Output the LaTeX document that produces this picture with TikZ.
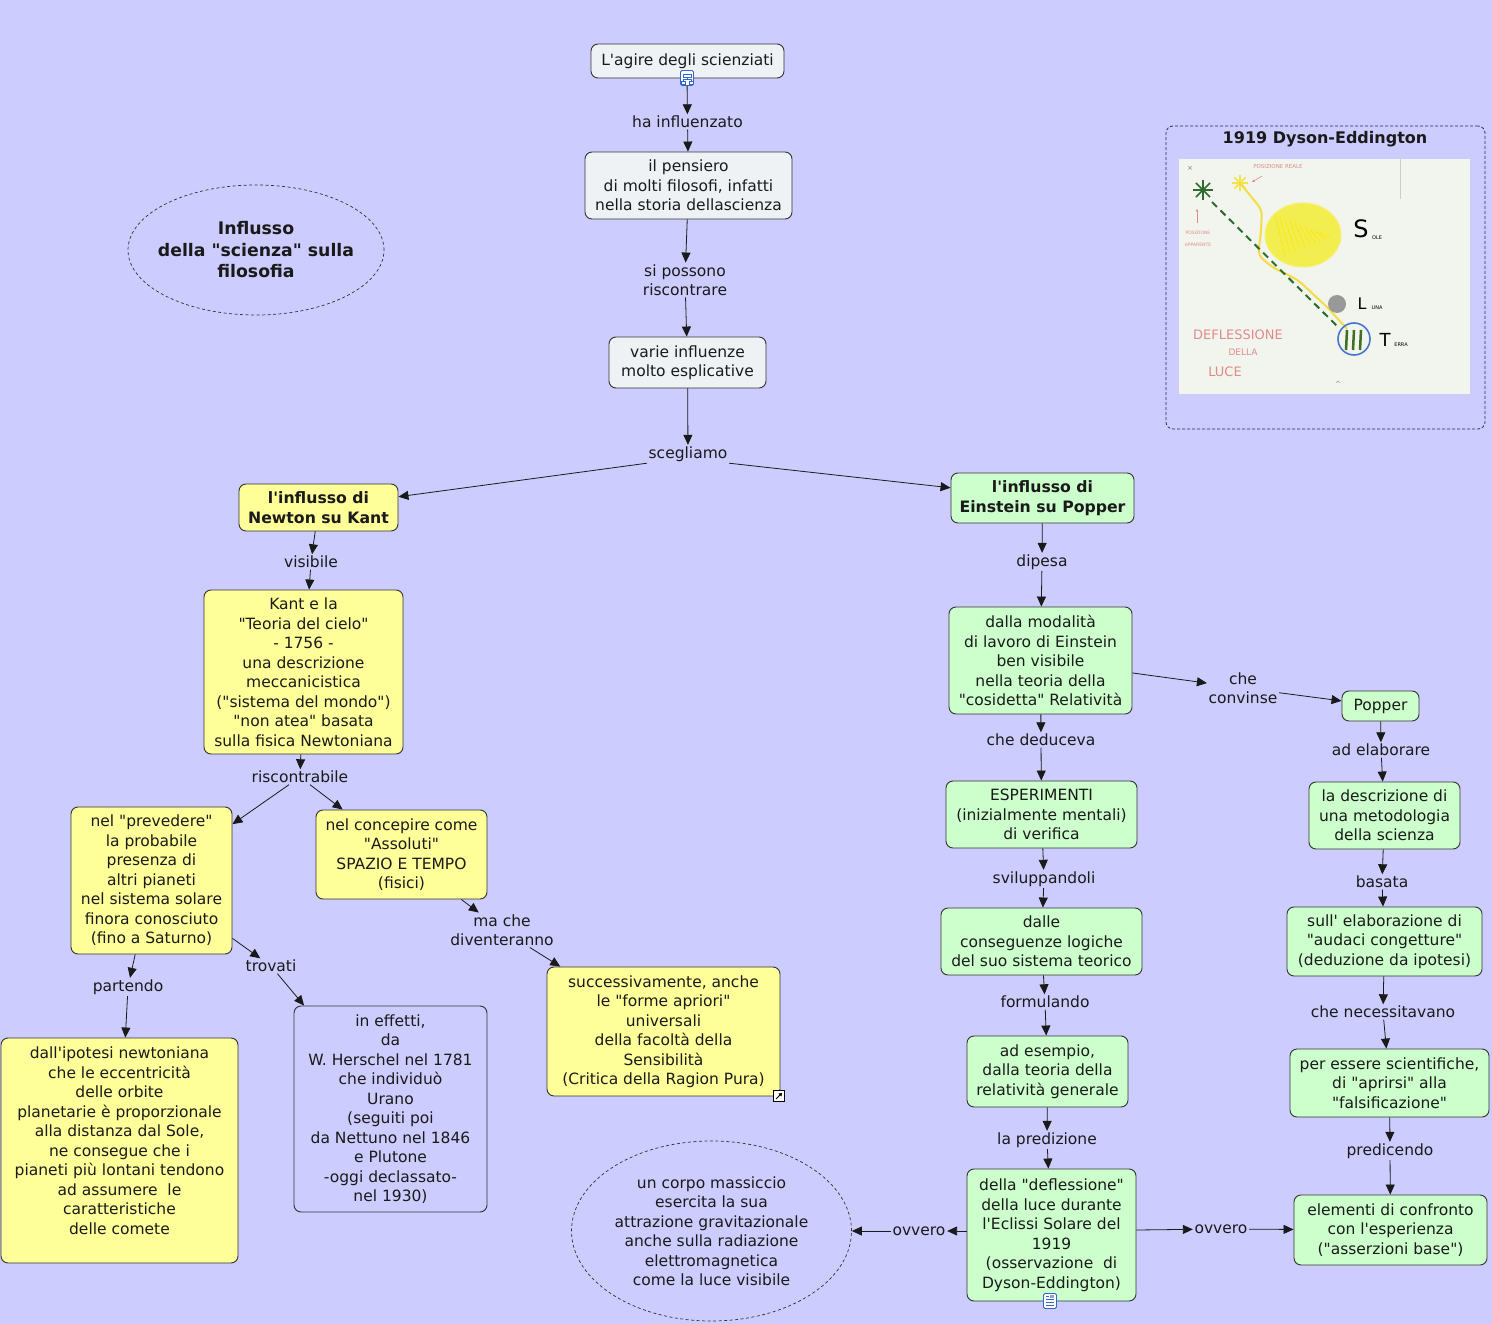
\documentclass[tikz,border=0pt]{standalone}
\usepackage{fontspec}
\setmainfont{DejaVu Sans}[Ligatures=TeXOff]
\usetikzlibrary{arrows.meta,shapes.geometric}
\definecolor{bg}{HTML}{CCCCFF}
\definecolor{boxgrey}{HTML}{EEF2F4}
\definecolor{boxyel}{HTML}{FFFF99}
\definecolor{boxgreen}{HTML}{CCFFCC}
\definecolor{ink}{HTML}{1A1A1A}
\definecolor{edge}{HTML}{333333}
\definecolor{photo}{HTML}{F2F5EE}
\definecolor{pinkink}{HTML}{E08A8A}
\definecolor{sunyel}{HTML}{F2EE50}
\definecolor{darkgreen}{HTML}{2E6B2E}
\definecolor{iconblue}{HTML}{3366CC}
\tikzset{
 base/.style={font=\fontsize{15.5}{19.5}\selectfont, text=ink, align=center},
 cbox/.style={base, draw=edge, line width=0.9pt, rounded corners=7pt, inner sep=2pt},
 gbox/.style={cbox, fill=boxgrey},
 ybox/.style={cbox, fill=boxyel},
 grbox/.style={cbox, fill=boxgreen},
 bbox/.style={cbox, fill=bg},
 sz/.style 2 args={minimum width=#1pt, minimum height=#2pt},
 lbl/.style={base, inner sep=1.5pt},
 conn/.style={draw=ink, line width=0.8pt, -{Triangle[length=10pt,width=9pt]}},
 note/.style={base, ellipse, draw=edge, dash pattern=on 3pt off 2.5pt, line width=0.7pt, inner sep=0pt},
 icon/.style={draw=iconblue, fill=white, line width=0.8pt, minimum width=13pt, minimum height=15pt, inner sep=0pt, rounded corners=1.5pt},
 hand/.style={text=pinkink, inner sep=0pt},
}
\begin{document}
\begin{tikzpicture}[x=1pt,y=-1pt]
\useasboundingbox[fill=bg] (0,0) rectangle (1492,1324);

% ---------- top chain ----------
\node[gbox, sz={193}{34}] (n1) at (687.5,61) {L'agire degli scienziati};
\node[icon] (ic1) at (687,78) {};
\draw[iconblue, line width=0.6pt] (683,74) rectangle (691,77) (687,77) -- (687,79) (683,79) -- (691,79) (683,79) -- (683,81) (691,79) -- (691,81) (681,81) rectangle (685,84) (689,81) rectangle (693,84);
\node[lbl] (l1) at (687.5,122) {ha influenzato};
\node[gbox, sz={207}{67}] (n3) at (688.5,185.5) {il pensiero\\di molti filosofi, infatti\\nella storia dellascienza};
\node[lbl] (l2) at (685,280) {si possono\\riscontrare};
\node[gbox, sz={157}{51}] (n5) at (687.5,362.5) {varie influenze\\molto esplicative};
\node[lbl] (l3) at (688,454) {scegliamo};

\draw[conn] (ic1) -- (l1);
\draw[conn] (l1) -- (n3);
\draw[conn] (n3) -- (l2);
\draw[conn] (l2) -- (n5);
\draw[conn] (n5) -- (l3);

% ---------- note ellipse ----------
\node[note, sz={256}{130}, inner xsep=-16pt, font=\fontsize{17.3}{21.5}\selectfont\bfseries] (e1) at (256,250) {Influsso\\della "scienza" sulla\\filosofia};

% ---------- left branch ----------
\node[ybox, sz={159}{47}, font=\fontsize{15.7}{19.5}\selectfont\bfseries] (n7) at (318.5,507.5) {l'influsso di\\Newton su Kant};
\draw[conn] (l3.south west) -- (n7);
\node[lbl] (l4) at (311,562) {visibile};
\node[ybox, sz={199}{164}] (n11) at (303.5,672) {Kant e la\\"Teoria del cielo"\\- 1756 -\\una descrizione\\meccanicistica\\("sistema del mondo")\\"non atea" basata\\sulla fisica Newtoniana};
\draw[conn] (n7) -- (l4);
\draw[conn] (l4) -- (n11);
\node[lbl] (l5) at (300,777) {riscontrabile};
\draw[conn] (n11) -- (l5);
\node[ybox, sz={161}{147}] (n13) at (151.5,880.5) {nel "prevedere"\\la probabile\\presenza di\\altri pianeti\\nel sistema solare\\finora conosciuto\\(fino a Saturno)};
\node[ybox, sz={171}{89}] (n14) at (401.5,854.5) {nel concepire come\\"Assoluti"\\SPAZIO E TEMPO\\(fisici)};
\draw[conn] ([xshift=-11pt]l5.south) -- (n13);
\draw[conn] ([xshift=10pt]l5.south) -- (n14);
\node[lbl] (l6) at (502,930) {ma che\\diventeranno};
\node[ybox, sz={233}{129}] (n16) at (663.5,1031.5) {successivamente, anche\\le "forme apriori"\\universali\\della facoltà della\\Sensibilità\\(Critica della Ragion Pura)};
\node[draw=black, fill=white, line width=0.7pt, minimum size=11pt, inner sep=0pt] (ic2) at (779,1096) {};
\draw[black, line width=1pt, -{Triangle[length=3pt,width=4pt]}] (776,1099) -- (782,1093);
\draw[conn] (n14) -- (l6);
\draw[conn] (l6) -- (n16);
\node[lbl] (l7) at (271,966) {trovati};
\node[lbl] (l8) at (128,987) {partendo};
\node[ybox, sz={237}{225}] (n19) at (119.5,1150.5) {dall'ipotesi newtoniana\\che le eccentricità\\delle orbite\\planetarie è proporzionale\\alla distanza dal Sole,\\ne consegue che i\\pianeti più lontani tendono\\ad assumere\ \ le\\caratteristiche\\delle comete\\~};
\node[bbox, sz={193}{206}] (n20) at (390.5,1109) {in effetti,\\da\\W. Herschel nel 1781\\che individuò\\Urano\\(seguiti poi\\da Nettuno nel 1846\\e Plutone\\-oggi declassato-\\nel 1930)};
\draw[conn] (n13) -- (l7);
\draw[conn] (l7) -- (n20);
\draw[conn] (n13) -- (l8);
\draw[conn] (l8) -- (n19);

% ---------- right branch ----------
\node[grbox, sz={183}{50}, font=\fontsize{15.7}{19.5}\selectfont\bfseries] (n8) at (1042.5,498) {l'influsso di\\Einstein su Popper};
\draw[conn] (l3.south east) -- (n8);
\node[lbl] (r1) at (1042,562) {dipesa};
\node[grbox, sz={183}{107}] (n22) at (1040.5,660.5) {dalla modalità\\di lavoro di Einstein\\ben visibile\\nella teoria della\\"cosidetta" Relatività};
\draw[conn] (n8) -- (r1);
\draw[conn] (r1) -- (n22);
\node[lbl] (r2) at (1243,688) {che\\convinse};
\node[grbox, sz={77}{30}] (pop) at (1380.5,706) {Popper};
\draw[conn] (n22) -- (r2);
\draw[conn] (r2) -- (pop);
\node[lbl] (r3) at (1041,740) {che deduceva};
\node[grbox, sz={191}{67}] (n26) at (1041.5,814.5) {ESPERIMENTI\\(inizialmente mentali)\\di verifica};
\draw[conn] (n22) -- (r3);
\draw[conn] (r3) -- (n26);
\node[lbl] (r4) at (1044,879) {sviluppandoli};
\node[grbox, sz={201}{67}] (n28) at (1041.5,941.5) {dalle\\conseguenze logiche\\del suo sistema teorico};
\draw[conn] (n26) -- (r4);
\draw[conn] (r4) -- (n28);
\node[lbl] (r5) at (1045,1002) {formulando};
\node[grbox, sz={161}{71}] (n30) at (1047.5,1071.5) {ad esempio,\\dalla teoria della\\relatività generale};
\draw[conn] (n28) -- (r5);
\draw[conn] (r5) -- (n30);
\node[lbl] (r6) at (1047,1140) {la predizione};
\node[grbox, sz={169}{132}] (n32) at (1051.5,1235) {della "deflessione"\\della luce durante\\l'Eclissi Solare del\\1919\\(osservazione\ \ di\\Dyson-Eddington)};
\node[icon] (ic3) at (1050,1301) {};
\draw[iconblue, line width=0.6pt] (1046,1296) -- (1049,1296) (1046,1299) -- (1054,1299) (1046,1302) -- (1054,1302) (1046,1305) -- (1054,1305);
\fill[iconblue!60] (1050,1295) rectangle (1054,1297.5);
\draw[conn] (n30) -- (r6);
\draw[conn] (r6) -- (n32);
\node[lbl] (r7) at (919,1231) {ovvero};
\node[note, sz={280}{180}] (e2) at (711.5,1231) {un corpo massiccio\\esercita la sua\\attrazione gravitazionale\\anche sulla radiazione\\elettromagnetica\\come la luce visibile};
\draw[conn] (n32.west |- r7) -- (r7);
\draw[conn] (r7) -- (e2);
\node[lbl] (r8) at (1221,1229) {ovvero};
\node[grbox, sz={193}{70}] (n36) at (1390.5,1230) {elementi di confronto\\con l'esperienza\\("asserzioni base")};
\draw[conn] ([yshift=-1pt]n32.east |- r8) -- (r8);
\draw[conn] (r8) -- (n36);

% ---------- Popper chain ----------
\node[lbl] (p1) at (1381,750) {ad elaborare};
\node[grbox, sz={151}{67}] (n38) at (1384.5,815.5) {la descrizione di\\una metodologia\\della scienza};
\draw[conn] (pop) -- (p1);
\draw[conn] (p1) -- (n38);
\node[lbl] (p2) at (1382,882) {basata};
\node[grbox, sz={195}{69}] (n40) at (1384.5,941.5) {sull' elaborazione di\\"audaci congetture"\\(deduzione da ipotesi)};
\draw[conn] (n38) -- (p2);
\draw[conn] (p2) -- (n40);
\node[lbl] (p3) at (1383,1012) {che necessitavano};
\node[grbox, sz={199}{68}] (n42) at (1389.5,1083) {per essere scientifiche,\\di "aprirsi" alla\\"falsificazione"};
\draw[conn] (n40) -- (p3);
\draw[conn] (p3) -- (n42);
\node[lbl] (p4) at (1390,1151) {predicendo};
\draw[conn] (n42) -- (p4);
\draw[conn] (p4) -- (n36);

% ---------- Dyson-Eddington image ----------
\node[draw=edge!80!blue, dash pattern=on 3pt off 2pt, line width=0.8pt, rounded corners=7pt, minimum width=319pt, minimum height=303pt, inner sep=0pt] (dy) at (1325.5,277.5) {};
\node[base, font=\fontsize{16}{19.5}\selectfont\bfseries] (dyt) at (1325,139) {1919 Dyson-Eddington};
\fill[photo] (1179,159) rectangle (1470,394);
\draw[gray!40, line width=0.5pt] (1400,159) -- (1400,199);
\node[text=gray, font=\fontsize{7}{7}\selectfont, inner sep=0pt] at (1190,168) {×};
% sun
\fill[sunyel] (1303,235) ellipse (38pt and 32pt);
\draw[sunyel!80!white, line width=1pt] (1303,235) ellipse (38pt and 32pt);
\foreach \i in {0,...,9} {\draw[yellow!90!orange, line width=0.6pt] (1275+\i*5,215+\i*2) -- (1285+\i*5,255-\i*2);}
% stars
\foreach \a in {0,45,...,315} {\draw[darkgreen, line width=1.6pt] (1203,190) -- ++(\a:10pt);}
\foreach \a in {0,45,...,315} {\draw[sunyel!90!orange, line width=1.6pt] (1240,183) -- ++(\a:8pt);}
% light path
\draw[sunyel!85!orange, line width=2pt, rounded corners=6pt] (1240,183) -- (1262,210) -- (1261,232) -- (1258,255) -- (1272,267) -- (1298,280) -- (1328,308) -- (1347,329);
\draw[darkgreen, line width=2pt, dash pattern=on 7pt off 5pt] (1212,202) -- (1338,327);
% moon and earth
\fill[gray!80] (1337,304) circle (9pt);
\draw[iconblue!90, line width=1.6pt] (1354,339) circle (16pt);
\foreach \dx in {-7,0,7} {\draw[darkgreen!80!olive, line width=2.5pt] (1354+\dx,330) -- (1353+\dx,350);}
% handwritten labels
\node[font=\fontsize{24}{24}\selectfont, inner sep=0pt] at (1361,229) {S};
\node[font=\fontsize{5}{5}\selectfont, inner sep=0pt] at (1377,238) {OLE};
\node[font=\fontsize{16}{16}\selectfont, inner sep=0pt] at (1362,304) {L};
\node[font=\fontsize{5}{5}\selectfont, inner sep=0pt] at (1377,308) {UNA};
\node[font=\fontsize{18}{18}\selectfont, inner sep=0pt] at (1385,340) {T};
\node[font=\fontsize{5}{5}\selectfont, inner sep=0pt] at (1401,345) {ERRA};
\node[hand, font=\fontsize{5.5}{5.5}\selectfont] at (1278,167) {POSIZIONE REALE};
\draw[pinkink, line width=0.6pt, -{Triangle[length=2.5pt,width=2.5pt]}] (1262,176) -- (1252,182);
\node[hand, font=\fontsize{4.5}{4.5}\selectfont] at (1198,233) {POSIZIONE};
\node[hand, font=\fontsize{4.5}{4.5}\selectfont] at (1198,245) {APPARENTE};
\draw[pinkink, line width=0.6pt, -{Triangle[length=2.5pt,width=2.5pt]}] (1197,223) -- (1197,209);
\node[hand, font=\fontsize{13}{13}\selectfont] at (1238,335) {DEFLESSIONE};
\node[hand, font=\fontsize{9}{9}\selectfont] at (1243,352) {DELLA};
\node[hand, font=\fontsize{13}{13}\selectfont] at (1225,372) {LUCE};
\node[text=gray, font=\fontsize{7}{7}\selectfont, inner sep=0pt] at (1338,384) {\^{}};
\end{tikzpicture}
\end{document}
